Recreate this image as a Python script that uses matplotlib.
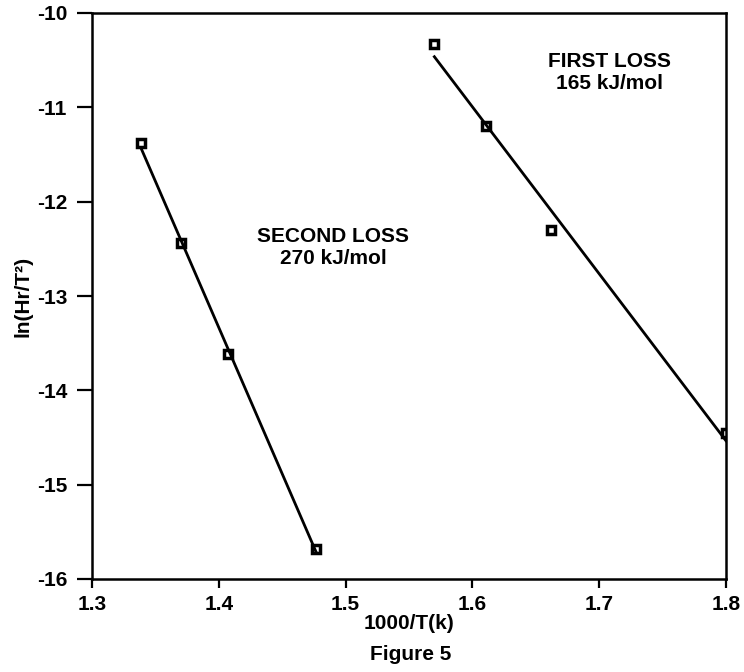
import matplotlib
matplotlib.use("Agg")
import matplotlib.pyplot as plt
import numpy as np

plt.rcParams['font.family'] = ["Liberation Sans", "DejaVu Sans"]
plt.rcParams['font.weight'] = 'bold'

# Data
second_x = [1.339, 1.370, 1.407, 1.477]
second_y = [-11.38, -12.44, -13.62, -15.68]
first_x = [1.570, 1.611, 1.662, 1.800]
first_y = [-10.33, -11.20, -12.30, -14.45]

x_ticks = [1.3, 1.4, 1.5, 1.6, 1.7, 1.8]
y_ticks = [-16, -15, -14, -13, -12, -11, -10]

fig = plt.figure(figsize=(7.44, 6.72), dpi=100)
ax = fig.add_axes([92/744, 1 - 579/672, 634/744, 566/672])

for xs, ys in [(second_x, second_y), (first_x, first_y)]:
    xs = np.array(xs); ys = np.array(ys)
    m, b = np.polyfit(xs, ys, 1)
    xl = np.array([xs.min(), xs.max()])
    ax.plot(xl, m * xl + b, color='black', lw=2)
    ax.plot(xs, ys, linestyle='none', marker='s', markersize=6,
            markerfacecolor='none', markeredgecolor='black', markeredgewidth=2.5)

ax.set_xlim(1.3, 1.8)
ax.set_ylim(-16, -10)
ax.set_xticks(x_ticks)
ax.set_xticklabels([f"{v:.1f}" for v in x_ticks])
ax.set_yticks(y_ticks)
ax.set_yticklabels([str(v) for v in y_ticks])
for s in ax.spines.values():
    s.set_linewidth(1.8)
ax.tick_params(axis='x', direction='out', length=6.5, width=1.6, labelsize=15, pad=5)
ax.tick_params(axis='y', direction='out', length=11, width=1.6, labelsize=15, pad=7)

ax.set_xlabel("1000/T(k)", fontsize=15, fontweight='bold', labelpad=0)
ax.set_ylabel("ln(Hr/T\u00b2)", fontsize=15, fontweight='bold', labelpad=3)

ax.text(1.7085, -10.63, "FIRST LOSS\n165 kJ/mol", ha='center', va='center',
        fontsize=15, fontweight='bold', linespacing=1.2)
ax.text(1.490, -12.49, "SECOND LOSS\n270 kJ/mol", ha='center', va='center',
        fontsize=15, fontweight='bold', linespacing=1.2)

fig.text(411/744, 1 - 655/672, "Figure 5", ha='center', va='center',
         fontsize=15, fontweight='bold')

fig.savefig("out.png", dpi=100)
